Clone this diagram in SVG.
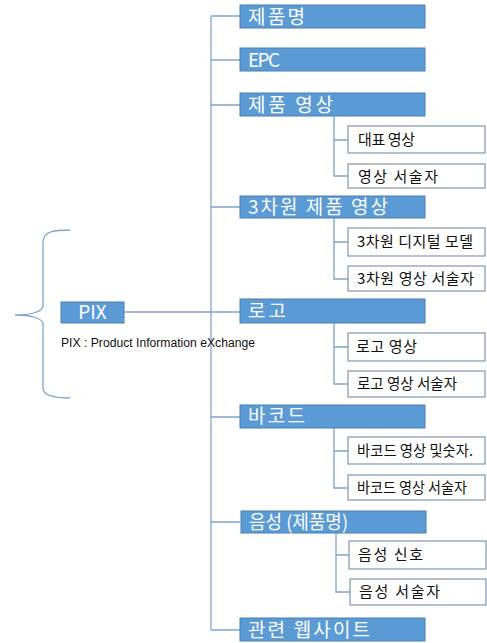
<svg xmlns="http://www.w3.org/2000/svg" width="487" height="643" viewBox="0 0 487 643">
<style>
.main rect{fill:#5b9bd5;stroke:#4a7fb5;stroke-width:1}
.main text{fill:#fff;font-family:"Noto Sans CJK KR","Noto Sans",sans-serif;font-size:19px}
.sub rect{fill:#fff;stroke:#7f97b2;stroke-width:1.2}
.sub text{fill:#111;font-family:"Noto Sans CJK KR","Noto Sans",sans-serif;font-size:15px}
.conn{stroke:#7fa5cc;stroke-width:1.3;fill:none}
</style>
<rect width="487" height="643" fill="#fff"/>
<g id="connectors" class="conn">
<path d="M211,16V630"/>
<path d="M211,16H240M211,60H240M211,105H240M211,207H240M211,312H240M211,417H240M211,522H240M211,630H240"/>
<path d="M124,312H211"/>
<path d="M334,116V176H348M334,140H348"/>
<path d="M334,218V279H348M334,242H348"/>
<path d="M334,323V384H348M334,347H348"/>
<path d="M334,428V488H348M334,451H348"/>
<path d="M336,533V592H350M336,555H349"/>
<path d="M70,230C55,230 43,231 43,242V306C43,312 30,315 15,315C30,315 43,318 43,324V388C43,396 55,398 70,398"/>
</g>
<g id="pix" class="main"><rect x="61" y="302" width="63" height="21"/><text x="92.5" y="319" text-anchor="middle" font-size="17">PIX</text></g>
<g id="pix-label"><text x="61" y="347" font-family="Liberation Sans,sans-serif" font-size="12.5" textLength="194" lengthAdjust="spacingAndGlyphs" fill="#111">PIX : Product Information eXchange</text></g>
<g id="n1" class="main"><rect x="240" y="5" width="185" height="23"/><text x="248" y="24" textLength="57">제품명</text></g>
<g id="n2" class="main"><rect x="240" y="48" width="185" height="23"/><text x="248" y="67" textLength="32">EPC</text></g>
<g id="n3" class="main"><rect x="240" y="93" width="185" height="23"/><text x="248" y="112" textLength="85">제품 영상</text></g>
<g id="n3a" class="sub"><rect x="348" y="126" width="137" height="27"/><text x="358" y="145" textLength="57">대표 영상</text></g>
<g id="n3b" class="sub"><rect x="348" y="164" width="137" height="24"/><text x="358" y="182" textLength="80">영상 서술자</text></g>
<g id="n4" class="main"><rect x="240" y="196" width="185" height="22"/><text x="248" y="214" textLength="140">3차원 제품 영상</text></g>
<g id="n4a" class="sub"><rect x="348" y="228" width="137" height="28"/><text x="357" y="247" textLength="116">3차원 디지털 모델</text></g>
<g id="n4b" class="sub"><rect x="348" y="266" width="137" height="25"/><text x="357" y="284" textLength="117">3차원 영상 서술자</text></g>
<g id="n5" class="main"><rect x="240" y="299" width="185" height="24"/><text x="248" y="318" textLength="38">로고</text></g>
<g id="n5a" class="sub"><rect x="348" y="333" width="137" height="28"/><text x="356" y="352" textLength="61">로고 영상</text></g>
<g id="n5b" class="sub"><rect x="348" y="371" width="137" height="26"/><text x="357" y="389" textLength="100" lengthAdjust="spacingAndGlyphs">로고 영상 서술자</text></g>
<g id="n6" class="main"><rect x="240" y="405" width="185" height="23"/><text x="248" y="423" textLength="57">바코드</text></g>
<g id="n6a" class="sub"><rect x="348" y="437" width="137" height="27"/><text x="357" y="456" textLength="116" lengthAdjust="spacingAndGlyphs">바코드 영상 및숫자.</text></g>
<g id="n6b" class="sub"><rect x="348" y="475" width="137" height="25"/><text x="357" y="493" textLength="110" lengthAdjust="spacingAndGlyphs">바코드 영상 서술자</text></g>
<g id="n7" class="main"><rect x="241" y="511" width="185" height="22"/><text x="249" y="529" textLength="99" lengthAdjust="spacingAndGlyphs">음성 (제품명)</text></g>
<g id="n7a" class="sub"><rect x="349" y="541" width="137" height="28"/><text x="358" y="560" textLength="65">음성 신호</text></g>
<g id="n7b" class="sub"><rect x="350" y="579" width="136" height="26"/><text x="359" y="597" textLength="81">음성 서술자</text></g>
<g id="n8" class="main"><rect x="240" y="618" width="185" height="23"/><text x="248" y="637" textLength="122">관련 웹사이트</text></g>
</svg>
